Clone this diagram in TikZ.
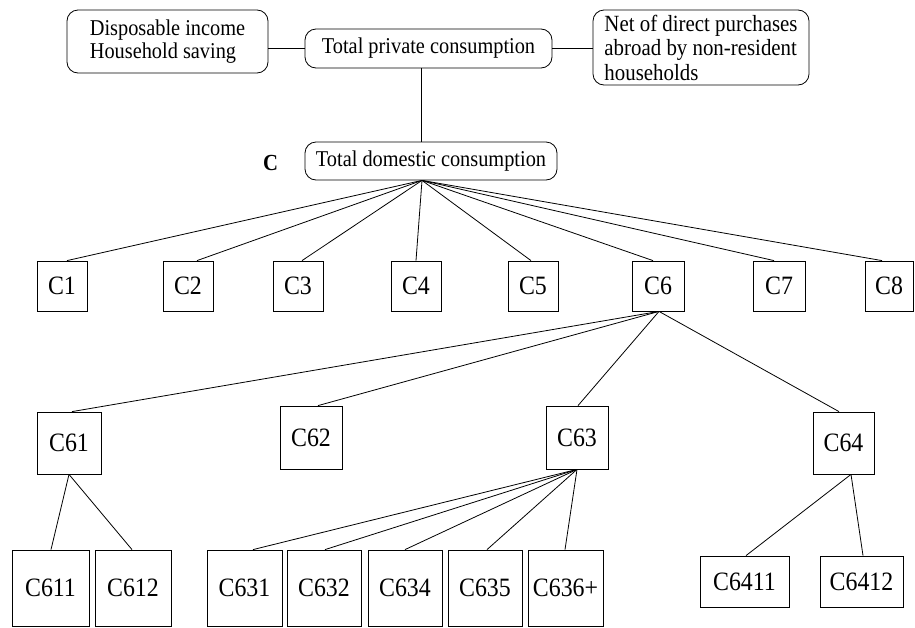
\documentclass[tikz,border=0pt]{standalone}
\usepackage{fontspec}
\setmainfont[FakeStretch=0.9]{Liberation Serif}
\begin{document}
\begin{tikzpicture}[x=1pt,y=-1pt,line width=0.8pt,
  rbox/.style={draw,rounded corners=11pt,inner sep=0pt,font=\fontsize{22.6}{23}\selectfont},
  cbox/.style={draw,inner sep=0pt,font=\fontsize{26.5}{28}\selectfont},
  link/.style={line width=0.8pt}]
\useasboundingbox (0,0) rectangle (915,627);
% top level
\node[rbox,minimum width=201pt,minimum height=63pt,align=left] (lb) at (167.5,41.5) {Disposable income\\Household saving};
\node[rbox,minimum width=247pt,minimum height=39pt] (tpc) at (428.5,48.5) {Total private consumption};
\node[rbox,minimum width=216pt,minimum height=75pt,align=left,font=\fontsize{23.2}{24.5}\selectfont] (rb) at (701,47.5) {Net of direct purchases\\abroad by non-resident\\households};
\node[rbox,minimum width=252pt,minimum height=38pt] (tdc) at (431,161) {Total domestic consumption};
\node[font=\fontsize{23}{24}\selectfont\bfseries,inner sep=0pt] (clab) at (270.5,163) {C};
% level 1
\foreach \n/\x/\w in {1/62/50,2/188/50,3/298/50,4/416/50,5/533/50,6/658/52,7/779/52,8/889/48}
  \node[cbox,minimum width=\w pt,minimum height=50pt] (c\n) at (\x,286) {C\n};
% level 2
\node[cbox,minimum width=64pt,minimum height=62pt] (c61) at (69,443) {C61};
\node[cbox,minimum width=62pt,minimum height=63pt] (c62) at (311,437.5) {C62};
\node[cbox,minimum width=62pt,minimum height=63pt] (c63) at (577,437.5) {C63};
\node[cbox,minimum width=61pt,minimum height=62pt] (c64) at (843.5,443) {C64};
% level 3
\node[cbox,minimum width=77pt,minimum height=76pt] (c611) at (50.5,588) {C611};
\node[cbox,minimum width=76pt,minimum height=76pt] (c612) at (133,588) {C612};
\node[cbox,minimum width=75pt,minimum height=76pt] (c631) at (244.5,588) {C631};
\node[cbox,minimum width=74pt,minimum height=76pt] (c632) at (324,588) {C632};
\node[cbox,minimum width=74pt,minimum height=76pt] (c634) at (405,588) {C634};
\node[cbox,minimum width=74pt,minimum height=76pt] (c635) at (485,588) {C635};
\node[cbox,minimum width=75pt,minimum height=76pt] (c636) at (565.5,588) {C636+};
\node[cbox,minimum width=89pt,minimum height=51pt] (c6411) at (744.5,581.5) {C6411};
\node[cbox,minimum width=83pt,minimum height=51pt] (c6412) at (861.5,581.5) {C6412};
% connectors top
\draw[link] (lb.east |- tpc.west) -- (tpc.west);
\draw[link] (tpc.east) -- (rb.west |- tpc.east);
\coordinate (tpcdown) at ([xshift=-7.5pt]tpc.south);
\coordinate (hub) at ([xshift=-9pt]tdc.south);
\draw[link] (tpcdown) -- (tpcdown |- tdc.north);
\foreach \n/\o in {1/5,2/9,3/4,4/0,5/-2,6/-5,7/-5,8/-7}
  \draw[link] (hub) -- ([xshift=\o pt]c\n.north);
% C6 children
\coordinate (c6s) at ([xshift=1pt]c6.south);
\foreach \n/\o in {61/3,62/7,63/1,64/-4.5}
  \draw[link] (c6s) -- ([xshift=\o pt]c\n.north);
% C61 children
\draw[link] (c61.south) -- ([xshift=0.5pt]c611.north);
\draw[link] (c61.south) -- ([xshift=-1pt]c612.north);
% C63 children
\foreach \n/\o in {631/8.5,632/1,634/0,635/2,636/-0.5}
  \draw[link] (c63.south) -- ([xshift=\o pt]c\n.north);
% C64 children
\coordinate (c64s) at ([xshift=7.5pt]c64.south);
\draw[link] (c64s) -- ([xshift=1.5pt]c6411.north);
\draw[link] (c64s) -- ([xshift=1.5pt]c6412.north);
\end{tikzpicture}
\end{document}
